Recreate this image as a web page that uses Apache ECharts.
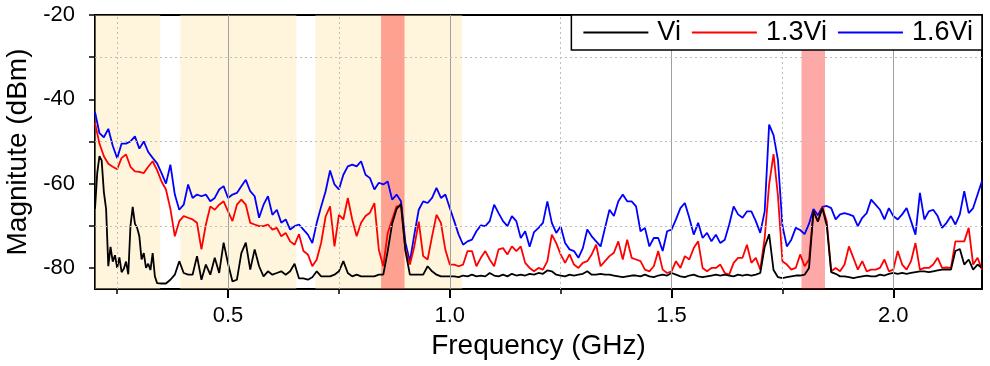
<!DOCTYPE html>
<html><head><meta charset="utf-8">
<script src="https://cdn.jsdelivr.net/npm/echarts@6/dist/echarts.min.js"></script>
<style>html,body{margin:0;padding:0;background:#fff}#c{width:990px;height:366px}</style>
</head><body><div id="c"></div>
<script>
// ---- data ----
const seriesNames = ['Vi', '1.3Vi', '1.6Vi'];
const freqStart = 0.2, freqStep = 0.01;   // GHz sample grid 0.20 .. 2.20 (1.3Vi, 1.6Vi)
// Vi: fine samples 0.200..0.335 (step 0.005), then 0.34..2.20 (step 0.01)
const viFineStart = 0.2, viFineStep = 0.005;
const viFine = [
-66,-57.5,-53.5,-54.5,-62,-66,-79.6,-75,-78.5,-77,
-80,-77.5,-81,-80.2,-78.5,-81.5,-70,-65.5,-69.5,-70.5,
-72.5,-78,-76.5,-80,-79,-80.5,-76.5,-82
];
const viCoarseStart = 0.34;
const vi = [
-83.6,-83.7,-83.7,-82.8,-81.6,-78.4,
-81.2,-81.6,-81.6,-77.2,-82.8,-79.2,-81.6,-77.6,-81.2,-74,
-79,-83.2,-82.8,-76.5,-74,-80.4,-75.6,-79.6,-82,-80.8,
-81.6,-81.2,-80.8,-81.6,-80.8,-79,-82.5,-82.5,-82.8,-82.2,
-80.8,-82,-82,-82,-81.6,-80.8,-78.4,-81.2,-82,-81.6,
-82,-82,-82,-82,-81.6,-81.6,-76,-69.5,-66,-64.8,
-76,-81.6,-81.6,-81.6,-81.6,-79.6,-80.8,-81.6,-82,-82,
-82,-82,-82.2,-81.8,-82,-81.6,-82,-81.8,-82,-81.2,
-81.8,-82,-81.6,-82,-81.4,-81.8,-81.6,-81.8,-81.4,-81.6,
-81.2,-81.4,-80.6,-80.8,-81.6,-81.8,-82,-81.6,-81.8,-81.6,
-81.4,-80.8,-81.6,-81.6,-81.4,-81.6,-81.6,-81.8,-82,-82.2,
-82,-81.8,-81.8,-82,-81.6,-82,-82.2,-81.8,-81.6,-81.8,
-81.2,-81.6,-82,-82.2,-81.8,-81.6,-82,-82.2,-82,-81.8,
-81.6,-81.8,-81.6,-81.8,-82,-81.6,-81.8,-81.6,-81.8,-81.6,
-81.2,-75,-72,-80.5,-82.2,-82.4,-82.2,-82,-81.8,-81.8,
-81.6,-80,-66.5,-69,-65.8,-70,-81,-81.4,-82,-82,
-82.2,-82.4,-82.2,-82,-81.8,-82,-82,-81.6,-81.8,-81.4,
-81.2,-81.4,-81.2,-81.4,-81.2,-81,-80.8,-80.8,-81,-80.8,
-80.6,-80.4,-80.4,-80.4,-76,-75.5,-79.2,-78,-80.4,-79.2,
-80
];
const vi13 = [
-45.6,-50.5,-53.5,-55.3,-56,-56.6,-53.9,-53.1,-56,-57.1,
-57.2,-57.5,-56,-54.7,-56.8,-59.5,-61.4,-66,-72.5,-68.9,
-67.7,-68.1,-68.5,-69.3,-75.6,-69.7,-65.4,-66.2,-65,-64.2,
-66.6,-68.9,-65,-63.8,-65,-69.3,-69.7,-70.1,-70.1,-69.7,
-70.9,-70.5,-72.5,-71.7,-73.7,-74.5,-72,-76,-76.8,-79.6,
-78,-74,-67.8,-65.4,-74.9,-67.4,-68.5,-63.4,-68.5,-72.5,
-69.3,-67.7,-66.9,-64.6,-75.7,-79.6,-71.7,-68.5,-65.4,-65.4,
-75.7,-79.2,-74.9,-69,-77.2,-78,-72.5,-67.4,-69.3,-75.7,
-79.2,-79.2,-79.6,-79.2,-76,-76,-79.6,-77.6,-76,-78,
-79.6,-75.6,-75.3,-76.8,-74.9,-76,-74.9,-78.8,-80,-80.8,
-80,-80.4,-78.4,-72.1,-74.1,-76.8,-78.8,-76.8,-79.2,-80,
-78.8,-78.4,-76.8,-74.5,-79.6,-78.4,-77.2,-76.4,-73.7,-78,
-73.3,-77.6,-78,-78.4,-80.4,-80.8,-79.6,-76,-80.4,-81.2,
-80.8,-78.4,-80,-77.2,-78,-75.3,-73.7,-80,-80.8,-80,
-80,-79.2,-81.2,-81.6,-78.8,-77.6,-77.6,-74.5,-78.8,-77.6,
-80.4,-72.9,-60.2,-53,-63,-78.4,-79.2,-80.4,-80,-76.8,
-79.6,-78,-66.5,-69,-65.5,-69,-80.8,-80,-80.8,-79.2,
-74.9,-77.6,-80.4,-78.4,-80.8,-80.4,-80.4,-80,-78,-80.8,
-80.4,-76,-79.2,-80.4,-78.4,-74.1,-80.4,-80,-80,-79.2,
-77.6,-80,-79.9,-80,-73.7,-73.7,-73.7,-70.5,-79.2,-77.6,
-80.4
];
const vi16 = [
-43,-48,-49,-47,-51,-54,-50.5,-50.5,-50,-48.8,
-51.7,-50,-52.5,-53.9,-55.2,-57.5,-60,-55.5,-62.6,-66.2,
-65,-60.2,-63.4,-62.6,-63,-62.6,-64.2,-63.4,-61.4,-60.6,
-63.4,-62.6,-62.2,-60.6,-59.1,-61.8,-63,-68.1,-65,-63,
-67.4,-66.2,-69.3,-68.5,-70.9,-70.1,-69.7,-70.9,-72.1,-74.1,
-69.3,-65.4,-61.8,-56.9,-60.2,-61.4,-57.9,-55.9,-55.5,-55.9,
-54.7,-57.9,-58.7,-61.4,-59.8,-60.2,-59.5,-63.8,-62.6,-64.2,
-74,-78.5,-72.1,-66.2,-64.2,-64.6,-63.4,-61,-63.4,-62.6,
-65.8,-68.9,-72.1,-74.5,-73.7,-73.3,-71.3,-69.9,-70.1,-68.9,
-65,-67,-68.9,-70.1,-67.7,-68.9,-72.9,-71.3,-75,-71.5,
-70.5,-69.3,-64.2,-69.3,-71.7,-70.1,-74.1,-75.6,-76,-77.6,
-75.3,-70.9,-72.5,-73.7,-74.9,-70.5,-66.2,-67.7,-64.2,-62.6,
-64.2,-64.2,-65.4,-71.3,-70.5,-74.9,-72.9,-72.9,-76,-71.3,
-70.9,-68.5,-65.8,-64.6,-68.1,-72.1,-69.3,-72.9,-71.7,-73.7,
-72.1,-74.1,-73.3,-69.7,-65.4,-67.3,-68.1,-66.6,-66.6,-68.9,
-71.7,-66.6,-46,-48.5,-54.5,-70,-74.9,-73.3,-70.5,-71,
-72,-69.5,-66,-67.5,-65.5,-65.3,-65.8,-68.5,-67.3,-67,
-67.3,-67.7,-70.1,-68.1,-67,-63.8,-65,-66.2,-68.5,-65.8,
-67.7,-68.5,-67.3,-65.8,-68.9,-72.1,-62.2,-68.5,-66.6,-66.2,
-67.7,-70.5,-69.3,-67.7,-69.7,-67.3,-61.8,-67,-65.8,-62.6,
-59.4
];
const xRange = [0.2, 2.2];
const yRange = [-85, -20];
const xMajorTicks = [0.5, 1.0, 1.5, 2.0];
const xMinorTicks = [0.25, 0.75, 1.25, 1.75];
const yLabelTicks = [-80, -60, -40, -20];
const yAllTicks = [-80, -70, -60, -50, -40, -30, -20];
const yDottedGrid = [-70, -50, -30];
const yellowBands = [[0.2, 0.347], [0.392, 0.654], [0.697, 1.028]];
const redBands = [[0.845, 0.898], [1.793, 1.846]];

// ---- chart ----
const FONT = 'Arial, "Liberation Sans", sans-serif';
const toPairs = (arr, start, step) => arr.map((v, i) => [+(start + i * step).toFixed(3), v]);
const colors = {'Vi': '#000000', '1.3Vi': '#ff0000', '1.6Vi': '#0000ff'};
const dataByName = {
  'Vi': toPairs(viFine, viFineStart, viFineStep).concat(toPairs(vi, viCoarseStart, freqStep)),
  '1.3Vi': toPairs(vi13, freqStart, freqStep),
  '1.6Vi': toPairs(vi16, freqStart, freqStep)
};
const zByName = {'Vi': 4, '1.3Vi': 3, '1.6Vi': 2};

const gridLines = [];
xMajorTicks.forEach(x => gridLines.push({xAxis: x, lineStyle: {color: '#a0a0a0', width: 1, type: 'solid'}}));
xMinorTicks.forEach(x => gridLines.push({xAxis: x, lineStyle: {color: '#bdbdbd', width: 1, type: [2, 3]}}));
yDottedGrid.forEach(y => gridLines.push({yAxis: y, lineStyle: {color: '#bdbdbd', width: 1, type: [2, 3]}}));

const lineSeries = ['1.6Vi', '1.3Vi', 'Vi'].map(n => ({
  name: n, type: 'line', data: dataByName[n],
  symbol: 'none', showSymbol: false, z: zByName[n],
  lineStyle: {color: colors[n], width: 1.8}, itemStyle: {color: colors[n]}
}));

const chart = echarts.init(document.getElementById('c'), null, {renderer: 'canvas'});
chart.setOption({
  animation: false,
  textStyle: {fontFamily: FONT},
  grid: {left: 95, right: 8, top: 15, bottom: 77, containLabel: false, outerBoundsMode: 'none',
         show: true, borderColor: '#000', borderWidth: 2, backgroundColor: 'transparent'},
  xAxis: [{
    type: 'value', min: xRange[0], max: xRange[1],
    name: 'Frequency (GHz)', nameLocation: 'middle', nameGap: 43,
    nameTextStyle: {fontSize: 28, color: '#000', fontFamily: FONT},
    axisLine: {show: true, onZero: false, lineStyle: {color: '#000', width: 2}},
    axisTick: {show: true, customValues: xMajorTicks, length: 9, lineStyle: {color: '#000', width: 2}},
    axisLabel: {customValues: xMajorTicks, formatter: v => v.toFixed(1), fontSize: 22, color: '#000', margin: 16, fontFamily: FONT},
    splitLine: {show: false}
  }, {
    type: 'value', gridIndex: 0, position: 'bottom', min: xRange[0], max: xRange[1],
    axisLine: {show: false, onZero: false},
    axisTick: {show: true, customValues: xMinorTicks, length: 5, lineStyle: {color: '#000', width: 1.5}},
    axisLabel: {show: false}, splitLine: {show: false}
  }],
  yAxis: [{
    type: 'value', min: yRange[0], max: yRange[1],
    name: 'Magnitute (dBm)', nameLocation: 'middle', nameGap: 61,
    nameTextStyle: {fontSize: 28, color: '#000', fontFamily: FONT},
    axisLine: {show: true, onZero: false, lineStyle: {color: '#000', width: 2}},
    axisTick: {show: true, customValues: yAllTicks, length: 6, lineStyle: {color: '#000', width: 1.5}},
    axisLabel: {customValues: yLabelTicks, fontSize: 22, color: '#000', margin: 20, fontFamily: FONT},
    splitLine: {show: false}
  }],
  legend: {
    data: seriesNames, right: 8, top: 15, orient: 'horizontal', z: 20,
    icon: 'rect', itemWidth: 65, itemHeight: 2, itemGap: 11,
    padding: [4, 9, 4, 12],
    backgroundColor: '#fff', borderColor: '#000', borderWidth: 1.5,
    textStyle: {fontSize: 27, color: '#000', fontFamily: FONT, padding: [0, 0, 0, 4]}
  },
  series: [
    {type: 'line', name: '_grid', data: [], z: 1, silent: true,
     markLine: {silent: true, symbol: ['none', 'none'], label: {show: false}, animation: false, data: gridLines}},
    ...lineSeries,
    {type: 'line', name: '_yellow', data: [], z: 6, silent: true,
     markArea: {silent: true, itemStyle: {color: 'rgba(255,229,163,0.38)'},
       data: yellowBands.map(b => [{xAxis: b[0]}, {xAxis: b[1]}])}},
    {type: 'line', name: '_red', data: [], z: 7, silent: true,
     markArea: {silent: true, itemStyle: {color: 'rgba(255,0,0,0.34)'},
       data: redBands.map(b => [{xAxis: b[0]}, {xAxis: b[1]}])}}
  ]
});
</script></body></html>
